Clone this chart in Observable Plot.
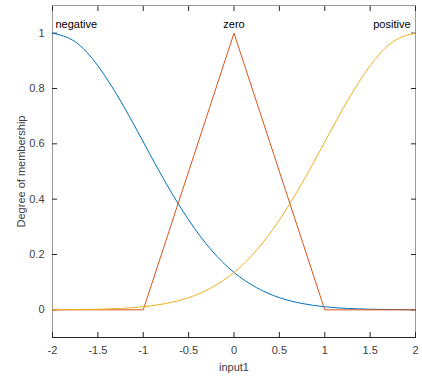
<!DOCTYPE html>
<html>
<head>
<meta charset="utf-8">
<script src="https://cdn.jsdelivr.net/npm/d3@7"></script>
<script src="https://cdn.jsdelivr.net/npm/@observablehq/plot@0.6"></script>
<style>
  html, body { margin: 0; padding: 0; background: #fff; }
  svg { display: block; }
</style>
</head>
<body>
<div id="chart"></div>
<script>
// Sampled input values (x axis)
const xs = [-2, -1.75, -1.5, -1.25, -1, -0.75, -0.5, -0.25, 0, 0.25, 0.5, 0.75, 1, 1.25, 1.5, 1.75, 2];
// "negative" membership
const negativeY = [1.000, 0.969, 0.882, 0.755, 0.607, 0.458, 0.325, 0.216, 0.135, 0.080, 0.044, 0.023, 0.011, 0.005, 0.002, 0.001, 0.000];
// "positive" membership
const positiveY = [0.000, 0.001, 0.002, 0.005, 0.011, 0.023, 0.044, 0.080, 0.135, 0.216, 0.325, 0.458, 0.607, 0.755, 0.882, 0.969, 1.000];
// "zero" membership (triangle vertices)
const zeroX = [-2, -1, 0, 1, 2];
const zeroY = [0, 0, 1, 0, 0];
// MF names and peak positions
const mfNames = ["negative", "zero", "positive"];
const mfPeaks = [-2, 0, 2];
const mfColors = ["#0072BD", "#D95319", "#EDB120"];
const xTicks = [-2, -1.5, -1, -0.5, 0, 0.5, 1, 1.5, 2];
const yTicks = [0, 0.2, 0.4, 0.6, 0.8, 1];

const negData = xs.map((x, i) => ({x, y: negativeY[i]}));
const posData = xs.map((x, i) => ({x, y: positiveY[i]}));
const zeroData = zeroX.map((x, i) => ({x, y: zeroY[i]}));
const labels = mfNames.map((name, i) => ({name, x: mfPeaks[i]}));

const fontFam = "'Liberation Sans', Arial, Helvetica, sans-serif";
const axisCol = "#262626";
const tickLabCol = "#404040";

const chart = Plot.plot({
  width: 422,
  height: 377,
  marginLeft: 52,
  marginRight: 7,
  marginTop: 5,
  marginBottom: 40,
  style: {fontFamily: fontFam, fontSize: "11px", color: axisCol, background: "#fff"},
  x: {domain: [-2, 2]},
  y: {domain: [-0.1, 1.1]},
  marks: [
    Plot.frame({stroke: "#9a9a9a", strokeWidth: 1}),
    Plot.frame({anchor: "bottom", stroke: axisCol}),
    // bottom axis with inward ticks
    Plot.axisX({anchor: "bottom", ticks: xTicks, tickFormat: d => String(d),
      tickSize: -5, tickPadding: 14, label: "input1", labelAnchor: "center", labelArrow: "none",
      labelOffset: 33, stroke: axisCol, fill: tickLabCol, fontSize: 11}),
    Plot.axisX({anchor: "top", ticks: xTicks, tickSize: -5, tickFormat: () => "", label: null, stroke: axisCol}),
    Plot.axisY({anchor: "left", ticks: yTicks, tickFormat: d => String(d), tickSize: -5, tickPadding: 13,
      label: "Degree of membership", labelAnchor: "center", labelArrow: "none", labelOffset: 35,
      stroke: axisCol, fill: tickLabCol, fontSize: 11}),
    Plot.axisY({anchor: "right", ticks: yTicks, tickSize: -5, tickFormat: () => "", label: null, stroke: axisCol}),
    Plot.line(negData, {x: "x", y: "y", stroke: mfColors[0], strokeWidth: 1, curve: "natural"}),
    Plot.line(zeroData, {x: "x", y: "y", stroke: mfColors[1], strokeWidth: 1}),
    Plot.line(posData, {x: "x", y: "y", stroke: mfColors[2], strokeWidth: 1, curve: "natural"}),
    Plot.text(labels.filter(d => d.name === "negative"), {x: "x", text: "name", frameAnchor: "top", dy: 15, textAnchor: "start", dx: 3, fill: "#000", fontSize: 11}),
    Plot.text(labels.filter(d => d.name === "zero"), {x: "x", text: "name", frameAnchor: "top", dy: 15, textAnchor: "middle", fill: "#000", fontSize: 11}),
    Plot.text(labels.filter(d => d.name === "positive"), {x: "x", text: "name", frameAnchor: "top", dy: 15, textAnchor: "end", dx: -5, fill: "#000", fontSize: 11})
  ]
});
document.getElementById("chart").appendChild(chart);
</script>
</body>
</html>
